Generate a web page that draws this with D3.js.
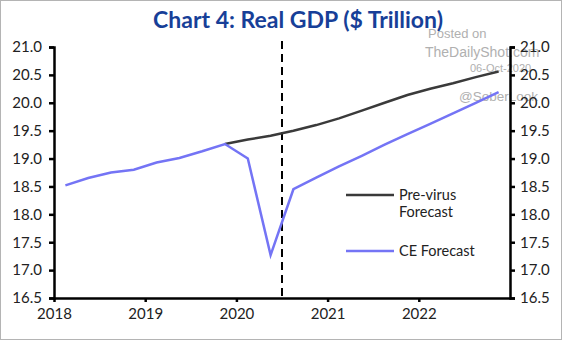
<!DOCTYPE html>
<html>
<head>
<meta charset="utf-8">
<script src="https://cdn.jsdelivr.net/npm/d3@7"></script>
<style>
    body { margin: 0; background: #fff; }
    svg { display: block; }
    .axis text { font-family: Lato, "Open Sans", sans-serif; font-size: 15px; fill: #222; }
    .axis path, .axis line { stroke: #000; }
</style>
</head>
<body>
<div id="chart"></div>
<script>
// quarterly real GDP, $ trillion
let quarters = [
    "2018Q1", "2018Q2", "2018Q3", "2018Q4",
    "2019Q1", "2019Q2", "2019Q3", "2019Q4",
    "2020Q1", "2020Q2", "2020Q3", "2020Q4",
    "2021Q1", "2021Q2", "2021Q3", "2021Q4",
    "2022Q1", "2022Q2", "2022Q3", "2022Q4"
];
let ceForecast = [
    18.52, 18.65, 18.75, 18.80, 18.93, 19.01, 19.13, 19.26,
    19.00, 17.27, 18.45, 18.66, 18.86, 19.05, 19.25, 19.44,
    19.62, 19.81, 20.00, 20.19
];
let preVirus = [
    null, null, null, null, null, null, null, 19.26,
    19.34, 19.41, 19.50, 19.60, 19.72, 19.86, 20.00, 20.14,
    20.25, 20.35, 20.46, 20.56
];
let yTicks = [16.5, 17.0, 17.5, 18.0, 18.5, 19.0, 19.5, 20.0, 20.5, 21.0];
let yearTicks = [2018, 2019, 2020, 2021, 2022];
let lockdownMark = 2020.5;

let width = 564, height = 341;
let margin = {top: 47, right: 54, bottom: 43, left: 54};

let svg = d3.select("#chart").append("svg")
    .attr("width", width)
    .attr("height", height);

// outer frame
svg.append("rect")
    .attr("x", 0.5).attr("y", 0.5)
    .attr("width", width - 3).attr("height", height - 2)
    .attr("fill", "none")
    .attr("stroke", "#b4b4b4");

// title
svg.append("text")
    .attr("x", 298).attr("y", 28)
    .attr("text-anchor", "middle")
    .attr("font-family", "Lato, 'Open Sans', sans-serif")
    .attr("font-weight", "bold")
    .attr("font-size", 23)
    .attr("fill", "#173f98")
    .text("Chart 4: Real GDP ($ Trillion)");

// quarter -> decimal year at mid-quarter
let qTime = q => +q.slice(0, 4) + (+q.slice(5) - 0.5) / 4;

let x = d3.scaleLinear()
    .domain([2018, 2023])
    .range([margin.left, width - margin.right]);

let y = d3.scaleLinear()
    .domain([16.5, 21.0])
    .range([height - margin.bottom, margin.top]);

// watermark
let wm = svg.append("g")
    .attr("font-family", "Arial, 'Liberation Sans', sans-serif")
    .attr("fill", "#b0b0b0");
wm.append("text").attr("x", 428).attr("y", 38).attr("font-size", 13).text("Posted on");
wm.append("text").attr("x", 425).attr("y", 57).attr("font-size", 14).text("TheDailyShot.com");
wm.append("text").attr("x", 470).attr("y", 72).attr("font-size", 11).text("06-Oct-2020");
wm.append("text").attr("x", 459).attr("y", 101).attr("font-size", 13.5).text("@SoberLook");

// axes
let fmt = d3.format(".1f");

svg.append("g")
    .attr("class", "axis")
    .attr("transform", `translate(${margin.left},0)`)
    .call(d3.axisLeft(y).tickValues(yTicks).tickFormat(fmt).tickSize(5).tickSizeOuter(5).tickPadding(7))
    .call(g => g.selectAll("path, line").attr("stroke-width", 2.5));

svg.append("g")
    .attr("class", "axis")
    .attr("transform", `translate(${width - margin.right},0)`)
    .call(d3.axisRight(y).tickValues(yTicks).tickFormat(fmt).tickSize(5).tickSizeOuter(5).tickPadding(5))
    .call(g => g.selectAll("path, line").attr("stroke-width", 2.5));

svg.append("g")
    .attr("class", "axis")
    .attr("transform", `translate(0,${height - margin.bottom})`)
    .call(d3.axisBottom(x).tickValues(yearTicks).tickFormat(d3.format("d")).tickSize(4).tickSizeOuter(0).tickPadding(6))
    .call(g => g.selectAll("path, line").attr("stroke-width", 2.5));

// dashed marker
svg.append("line")
    .attr("x1", x(lockdownMark)).attr("x2", x(lockdownMark))
    .attr("y1", 41).attr("y2", y(16.5))
    .attr("stroke", "#000")
    .attr("stroke-width", 2)
    .attr("stroke-dasharray", "8,5");

// series
let line = d3.line()
    .defined(d => d.value !== null)
    .x(d => x(qTime(d.q)))
    .y(d => y(d.value));

svg.append("path")
    .datum(quarters.map((q, i) => ({q: q, value: preVirus[i]})))
    .attr("d", line)
    .attr("fill", "none")
    .attr("stroke", "#3a3a3a")
    .attr("stroke-width", 2.5);

svg.append("path")
    .datum(quarters.map((q, i) => ({q: q, value: ceForecast[i]})))
    .attr("d", line)
    .attr("fill", "none")
    .attr("stroke", "#7474f5")
    .attr("stroke-width", 2.5);

// legend
let legend = svg.append("g")
    .attr("font-family", "Lato, 'Open Sans', sans-serif")
    .attr("font-size", 14.5)
    .attr("fill", "#222");

legend.append("line")
    .attr("x1", 346).attr("x2", 394).attr("y1", 195).attr("y2", 195)
    .attr("stroke", "#3a3a3a").attr("stroke-width", 2.5);
legend.append("text").attr("x", 399).attr("y", 200).text("Pre-virus");
legend.append("text").attr("x", 399).attr("y", 217).text("Forecast");

legend.append("line")
    .attr("x1", 346).attr("x2", 394).attr("y1", 251).attr("y2", 251)
    .attr("stroke", "#7474f5").attr("stroke-width", 2.5);
legend.append("text").attr("x", 399).attr("y", 256).text("CE Forecast");
</script>
</body>
</html>
